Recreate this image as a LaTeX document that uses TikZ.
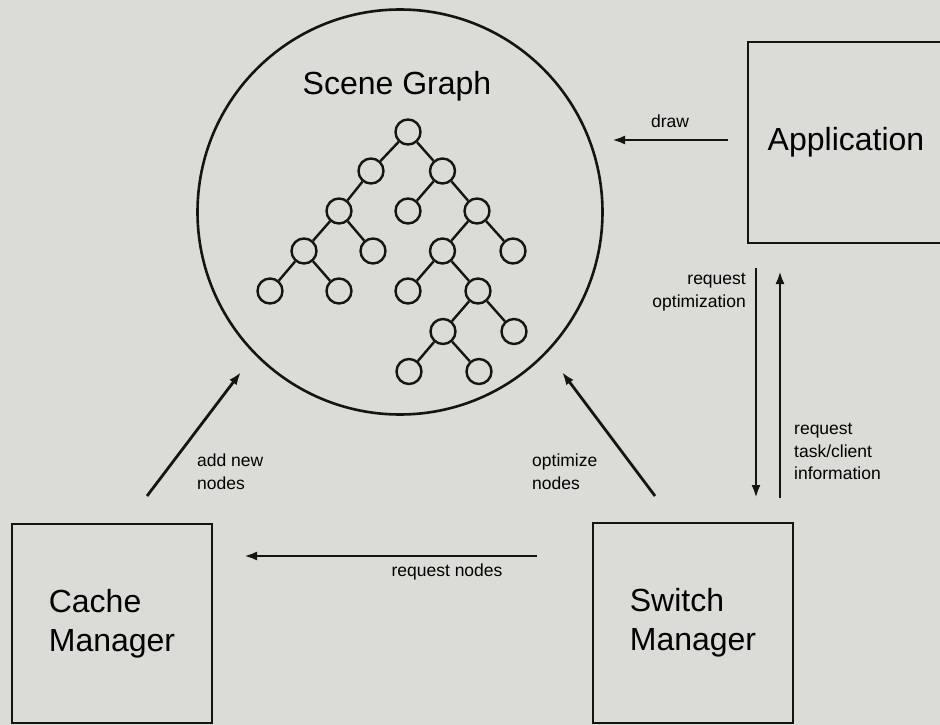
\documentclass[tikz,border=0pt]{standalone}
\usepackage{fontspec}
\setmainfont{Liberation Sans}
\usetikzlibrary{arrows.meta,calc}
\definecolor{bg}{RGB}{219,220,213}
\definecolor{ink}{RGB}{20,20,20}
\tikzset{
  box/.style={draw=ink,line width=2.8pt,rectangle,inner sep=0pt,font=\fontsize{32}{39}\selectfont,align=left},
  big/.style={font=\fontsize{32}{39}\selectfont,inner sep=0pt},
  small/.style={font=\fontsize{17.5}{22.5}\selectfont,inner sep=0pt},
  tn/.style={draw=ink,circle,line width=2.4pt,minimum size=25pt,inner sep=0pt},
  te/.style={draw=ink,line width=2.4pt},
  arr/.style={draw=ink,line width=2.8pt,-{Latex[length=13pt,width=9pt]}}
}
\begin{document}
\begin{tikzpicture}[x=1pt,y=-1pt]
\fill[bg] (0,0) rectangle (940,725);
\useasboundingbox (0,0) rectangle (940,725);
\begin{scope}
\clip (0,0) rectangle (940,725);
% main circle
\node[draw=ink,circle,line width=2.6pt,minimum size=405pt,inner sep=0pt] (sg) at (400,212) {};
\node[big] (sgtitle) at (397,86) {Scene Graph};
% tree
\node[tn] (r) at (408,132) {};
\node[tn] (a) at (371,171) {};
\node[tn] (b) at (442.5,171) {};
\node[tn] (c) at (339,211) {};
\node[tn] (d) at (408,211) {};
\node[tn] (e) at (477,211) {};
\node[tn] (f) at (304,251) {};
\node[tn] (g) at (373,251) {};
\node[tn] (h) at (442.5,251) {};
\node[tn] (i) at (513,251) {};
\node[tn] (j) at (270,291) {};
\node[tn] (k) at (339,291) {};
\node[tn] (l) at (408,291) {};
\node[tn] (m) at (478,291) {};
\node[tn] (n) at (443,331.5) {};
\node[tn] (o) at (514,331.5) {};
\node[tn] (p) at (409,371.5) {};
\node[tn] (q) at (479,371.5) {};
\foreach \u/\v in {r/a,r/b,a/c,b/d,b/e,c/f,c/g,e/h,e/i,f/j,f/k,h/l,h/m,m/n,m/o,n/p,n/q}
  \draw[te] (\u) -- (\v);
% boxes
\node[box,minimum width=196pt,minimum height=201pt] (app) at (846,142.5) {Application};
\node[box,minimum width=200pt,minimum height=199pt] (cache) at (112,623.5) {Cache\\Manager};
\node[box,minimum width=200pt,minimum height=200pt] (switch) at (693,623) {Switch\\Manager};
% arrow end points
\coordinate (drawS) at (728,140);
\coordinate (drawE) at (612,140);
\coordinate (roS) at (756,268);
\coordinate (roE) at (756,498);
\coordinate (rtS) at (780,498);
\coordinate (rtE) at (780,271);
\coordinate (rnS) at (537,556);
\coordinate (rnE) at (244,556);
\coordinate (anS) at (147,496);
\coordinate (anE) at (241,372);
\coordinate (onS) at (655,496);
\coordinate (onE) at (562,372);
% arrows
\draw[arr] (drawS) -- (drawE);
\draw[arr] (roS) -- (roE);
\draw[arr] (rtS) -- (rtE);
\draw[arr] (rnS) -- (rnE);
\draw[arr] (anS) -- (anE);
\draw[arr] (onS) -- (onE);
% labels
\node[small] (ldraw) at (670,121) {draw};
\node[small,align=right,anchor=north east] (lro) at (746,273) {request\\optimization};
\node[small,align=left,anchor=north west] (lrt) at (794,423) {request\\task/client\\information};
\node[small] (lrn) at (447,572) {request nodes};
\node[small,align=left,anchor=north west] (lan) at (197,454) {add new\\nodes};
\node[small,align=left,anchor=north west] (lon) at (532,454) {optimize\\nodes};
\end{scope}
\end{tikzpicture}
\end{document}
